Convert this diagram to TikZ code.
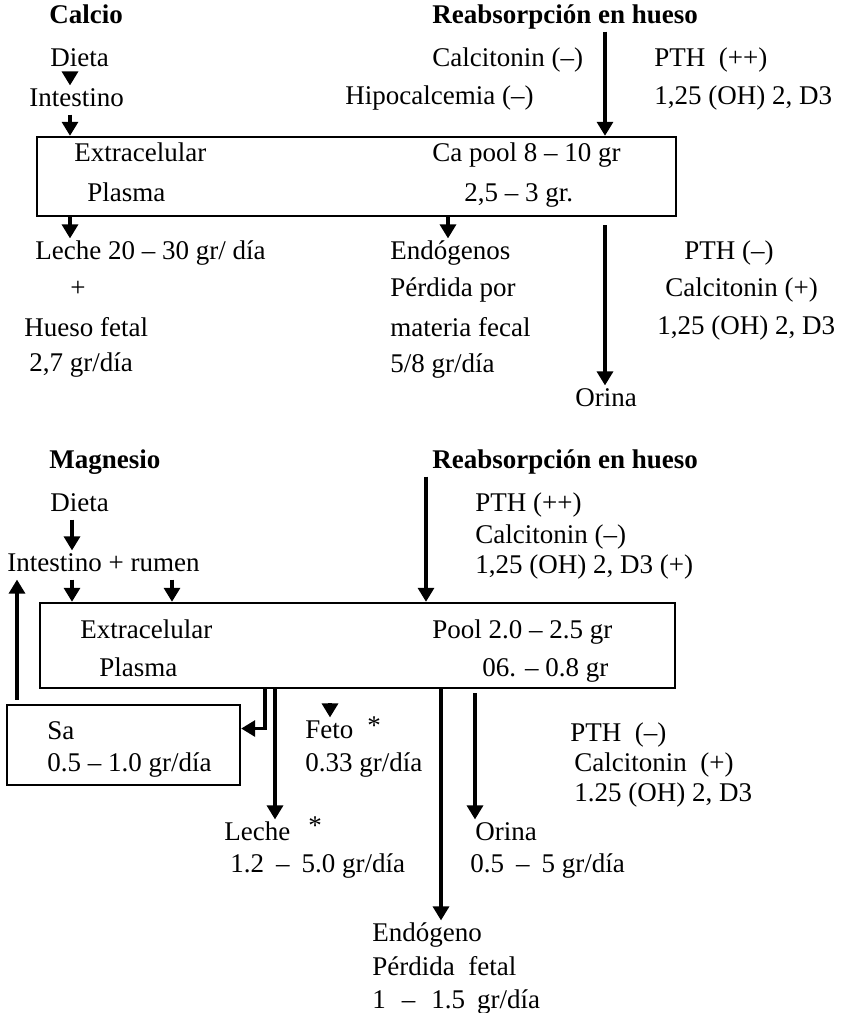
\documentclass[tikz,border=0pt]{standalone}
\usepackage{fontspec}
\setmainfont{Liberation Serif}
\usetikzlibrary{arrows.meta,fit,calc,positioning}
\newcommand{\fs}{\fontsize{13.5}{15}\selectfont}

\begin{document}
\begin{tikzpicture}[x=0.5pt,y=-0.5pt,
  every node/.style={font=\fs,inner sep=1pt,text height=9.5pt,text depth=2.7pt},
  txt/.style={anchor=west},
  tit/.style={anchor=west,font=\fs\bfseries},
  caja/.style={draw,line width=1.2pt,inner sep=0pt,text height=,text depth=},
  flecha/.style={line width=1.6pt,-{Triangle[width=8pt,length=7pt]}}]
  \useasboundingbox (0,0) rectangle (843,1013);

  % Calcio
  \node[tit] (calcio) at (47,17) {Calcio};
  \node[tit] (reab1) at (430,17) {Reabsorpción en hueso};
  \node[txt] (dieta1) at (48,60) {Dieta};
  \node[txt] (intes1) at (27,100) {Intestino};
  \node[txt] (calci1) at (430,60) {Calcitonin (--)};
  \node[txt] (hipo1) at (343,98) {Hipocalcemia (--)};
  \node[txt] (pth1) at (652,60) {PTH\ \ (++)};
  \node[txt] (vitd1) at (652,98) {1,25 (OH) 2, D3};
  \node[caja,fit={(37,137) (676,216)}] (caja1) {};
  \node[txt] (ext1) at (72,155) {Extracelular};
  \node[txt] (plas1) at (85,195) {Plasma};
  \node[txt] (pool1) at (430,155) {Ca pool 8 -- 10 gr};
  \node[txt] (rango1) at (462,195) {2,5 -- 3 gr.};
  \node[txt] (leche1) at (33,253) {Leche 20 -- 30 gr/ día};
  \node (mas1) at (78,290) {+};
  \node[txt] (hfet1) at (22,330) {Hueso fetal};
  \node[txt] (dia1) at (27,365) {2,7 gr/día};
  \node[txt] (endo1) at (388,253) {Endógenos};
  \node[txt] (perd1) at (388,290) {Pérdida por};
  \node[txt] (mat1) at (388,330) {materia fecal};
  \node[txt] (cinco1) at (388,366) {5/8 gr/día};
  \node (orina1) at (606,400) {Orina};
  \node[txt] (pth2) at (682,253) {PTH (--)};
  \node[txt] (calci2) at (663,290) {Calcitonin (+)};
  \node[txt] (vitd2) at (655,328) {1,25 (OH) 2, D3};

  \draw[flecha] (dieta1.south -| 70,0) -- (intes1.north -| 70,0);
  \draw[flecha] (intes1.south -| 70,0) -- (caja1.north -| 70,0);
  \draw[flecha] (reab1.south -| 605,0) -- (caja1.north -| 605,0);
  \draw[flecha] (caja1.south -| 70,0) -- (leche1.north -| 70,0);
  \draw[flecha] (caja1.south -| 448,0) -- (endo1.north -| 448,0);
  \draw[flecha,shorten <=4pt] (caja1.south -| 605,0) -- (orina1.north -| 605,0);

  % Magnesio
  \node[tit] (mag) at (47,462) {Magnesio};
  \node[tit] (reab2) at (430,462) {Reabsorpción en hueso};
  \node[txt] (dieta2) at (48,505) {Dieta};
  \node[txt] (intes2) at (5,565) {Intestino + rumen};
  \node[txt] (pth3) at (473,505) {PTH (++)};
  \node[txt] (calci3) at (473,537) {Calcitonin (--)};
  \node[txt] (vitd3) at (473,567) {1,25 (OH) 2, D3 (+)};
  \node[caja,fit={(40,603) (675,688)}] (caja2) {};
  \node[txt] (ext2) at (78,632) {Extracelular};
  \node[txt] (plas2) at (97,670) {Plasma};
  \node[txt] (pool2) at (430,632) {Pool 2.0 -- 2.5 gr};
  \node[txt] (rango2) at (480,670) {06. -- 0.8 gr};
  \node[caja,fit={(7,705) (240,785)}] (saja) {};
  \node[txt] (sa1) at (45,733) {Sa};
  \node[txt] (sa2) at (45,765) {0.5 -- 1.0 gr/día};
  \node[txt] (feto1) at (303,732) {Feto\hspace{7pt}\raisebox{2pt}{*}};
  \node[txt] (feto2) at (303,765) {0.33 gr/día};
  \node[txt] (leche2) at (222,834) {Leche\hspace{9pt}\raisebox{3pt}{*}};
  \node[txt] (lrango2) at (228,866) {1.2\hspace{6pt}--\hspace{6pt}5.0 gr/día};
  \node[txt] (orina2) at (473,834) {Orina};
  \node[txt] (orango2) at (468,866) {0.5\hspace{6pt}--\hspace{6pt}5 gr/día};
  \node[txt] (pth4) at (568,735) {PTH\ \ (--)};
  \node[txt] (calci4) at (572,765) {Calcitonin\ \ (+)};
  \node[txt] (vitd4) at (572,795) {1.25 (OH) 2, D3};
  \node[txt] (endo2) at (370,935) {Endógeno};
  \node[txt] (perd2) at (370,969) {Pérdida\ \ fetal};
  \node[txt] (uno2) at (370,1002) {1\hspace{8pt}--\hspace{8pt}1.5\hspace{6pt}gr/día};

  \draw[flecha] (dieta2.south -| 72,0) -- (intes2.north -| 72,0);
  \draw[flecha] (intes2.south -| 72,0) -- (caja2.north -| 72,0);
  \draw[flecha] (intes2.south -| 172,0) -- (caja2.north -| 172,0);
  \draw[flecha] (reab2.south -| 426,0) -- (caja2.north -| 426,0);
  \draw[flecha,shorten <=2pt] (saja.north -| 17,0) -- (intes2.south -| 17,0);
  \draw[flecha] (caja2.south -| 265,0) |- ($(saja.north east)!0.3!(saja.south east)$);
  \draw[flecha] (caja2.south -| 275,0) -- (leche2.north -| 275,0);
  \draw[flecha,shorten <=7pt] (caja2.south -| 330,0) -- (feto1.north -| 330,0);
  \draw[flecha] (caja2.south -| 441,0) -- (endo2.north -| 441,0);
  \draw[flecha,shorten <=2pt] (caja2.south -| 475,0) -- (orina2.north -| 475,0);
\end{tikzpicture}
\end{document}
